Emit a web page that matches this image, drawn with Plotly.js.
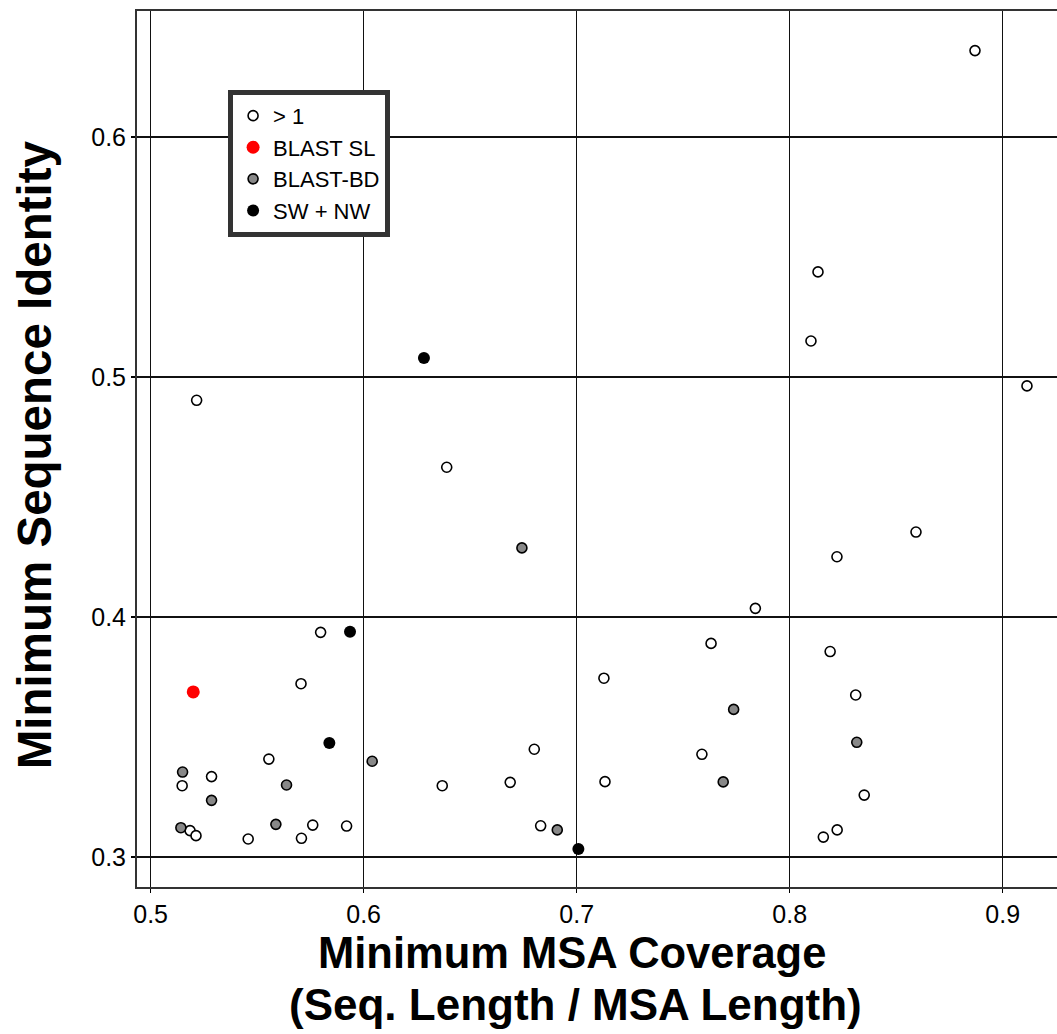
<!DOCTYPE html>
<html>
<head>
<meta charset="utf-8">
<script src="https://cdn.plot.ly/plotly-3.0.1.min.js"></script>
<style>
  html, body { margin: 0; padding: 0; background: #fff; overflow: hidden; }
  #chart { width: 1057px; height: 1034px; }
</style>
</head>
<body>
<div id="chart"></div>
<script>
// Series: ">1"
const gtOneX = [0.887, 0.8133, 0.8100, 0.9114, 0.5216, 0.639, 0.8593, 0.8222, 0.7839, 0.5798,
                0.7631, 0.819, 0.7128, 0.5706, 0.831, 0.6801, 0.5555, 0.7588, 0.5148, 0.5286,
                0.6369, 0.6688, 0.7133, 0.835, 0.6831, 0.8223, 0.8158, 0.5185, 0.5213, 0.5458,
                0.5761, 0.5708, 0.592];
const gtOneY = [0.636, 0.5438, 0.515, 0.4963, 0.4903, 0.4624, 0.4354, 0.4251, 0.4036, 0.3936,
                0.389, 0.3856, 0.3745, 0.3722, 0.3675, 0.3449, 0.3408, 0.3428, 0.3297, 0.3335,
                0.3297, 0.3311, 0.3314, 0.3258, 0.313, 0.3113, 0.3083, 0.311, 0.3089, 0.3075,
                0.3133, 0.3078, 0.3129];
// Series: "BLAST SL"
const blastSLX = [0.52];
const blastSLY = [0.3688];
// Series: "BLAST-BD"
const blastBDX = [0.6743, 0.515, 0.5286, 0.5638, 0.604, 0.5142, 0.5588, 0.6909, 0.7737, 0.7688, 0.8315];
const blastBDY = [0.4288, 0.3354, 0.3236, 0.33, 0.3399, 0.3122, 0.3136, 0.3113, 0.3615, 0.3313, 0.3478];
// Series: "SW + NW"
const swnwX = [0.6283, 0.5936, 0.5839, 0.7008];
const swnwY = [0.5079, 0.3939, 0.3475, 0.3033];

const seriesNames = ['> 1', 'BLAST SL', 'BLAST-BD', 'SW + NW'];
const xTicks = [0.5, 0.6, 0.7, 0.8, 0.9];
const xTickLabels = ['0.5', '0.6', '0.7', '0.8', '0.9'];
const yTicks = [0.3, 0.4, 0.5, 0.6];
const yTickLabels = ['0.3', '0.4', '0.5', '0.6'];
const xTitle1 = 'Minimum MSA Coverage';
const xTitle2 = '(Seq. Length / MSA Length)';
const yTitle = 'Minimum Sequence Identity';

const FONT = 'Arial, "Liberation Sans", sans-serif';

const traces = [
  { x: gtOneX, y: gtOneY, name: seriesNames[0], type: 'scatter', mode: 'markers',
    marker: { symbol: 'circle', size: 10, color: '#ffffff', line: { color: '#000000', width: 1.6 } } },
  { x: blastSLX, y: blastSLY, name: seriesNames[1], type: 'scatter', mode: 'markers',
    marker: { symbol: 'circle', size: 13, color: '#ff0000', line: { color: '#ff0000', width: 0 } } },
  { x: blastBDX, y: blastBDY, name: seriesNames[2], type: 'scatter', mode: 'markers',
    marker: { symbol: 'circle', size: 10, color: '#888888', line: { color: '#000000', width: 1.6 } } },
  { x: swnwX, y: swnwY, name: seriesNames[3], type: 'scatter', mode: 'markers',
    marker: { symbol: 'circle', size: 12, color: '#000000', line: { color: '#000000', width: 0 } } }
];

const layout = {
  width: 1057, height: 1034,
  margin: { l: 137, r: 0, t: 11, b: 147, pad: 0 },
  paper_bgcolor: '#ffffff', plot_bgcolor: '#ffffff',
  font: { family: FONT, color: '#000000' },
  showlegend: true,
  legend: {
    x: 0.099, y: 0.91, xanchor: 'left', yanchor: 'top',
    bgcolor: '#ffffff', bordercolor: '#333333', borderwidth: 5,
    font: { family: FONT, size: 22, color: '#000000' },
    entrywidth: 160, entrywidthmode: 'pixels',
    tracegroupgap: 0, itemsizing: 'trace'
  },
  xaxis: {
    range: [0.4936, 0.9255],
    tickmode: 'array', tickvals: xTicks, ticktext: xTickLabels,
    tickfont: { family: FONT, size: 25, color: '#000000' },
    ticks: 'outside', ticklen: 4, tickwidth: 1.5, tickcolor: '#000000',
    showgrid: true, gridcolor: '#111111', gridwidth: 1.6,
    zeroline: false,
    showline: true, linecolor: '#333333', linewidth: 2, mirror: true
  },
  yaxis: {
    range: [0.2875, 0.6525],
    tickmode: 'array', tickvals: yTicks, ticktext: yTickLabels,
    tickfont: { family: FONT, size: 25, color: '#000000' },
    ticks: 'outside', ticklen: 4, tickwidth: 1.5, tickcolor: '#000000',
    showgrid: true, gridcolor: '#111111', gridwidth: 1.6,
    zeroline: false,
    showline: true, linecolor: '#333333', linewidth: 2, mirror: false
  },
  annotations: [
    { text: '<b>' + xTitle1 + '</b>', xref: 'paper', yref: 'paper', x: 0.473, y: -0.0753,
      xanchor: 'center', yanchor: 'middle', showarrow: false,
      font: { family: FONT, size: 43.5, color: '#000000' } },
    { text: '<b>' + xTitle2 + '</b>', xref: 'paper', yref: 'paper', x: 0.477, y: -0.1336,
      xanchor: 'center', yanchor: 'middle', showarrow: false,
      font: { family: FONT, size: 44, color: '#000000' } },
    { text: '<b>' + yTitle + '</b>', xref: 'paper', yref: 'paper', x: -0.112, y: 0.494,
      xanchor: 'center', yanchor: 'middle', showarrow: false, textangle: -90,
      font: { family: FONT, size: 47.5, color: '#000000' } }
  ]
};

Plotly.newPlot('chart', traces, layout, { displayModeBar: false, staticPlot: true });
</script>
</body>
</html>
